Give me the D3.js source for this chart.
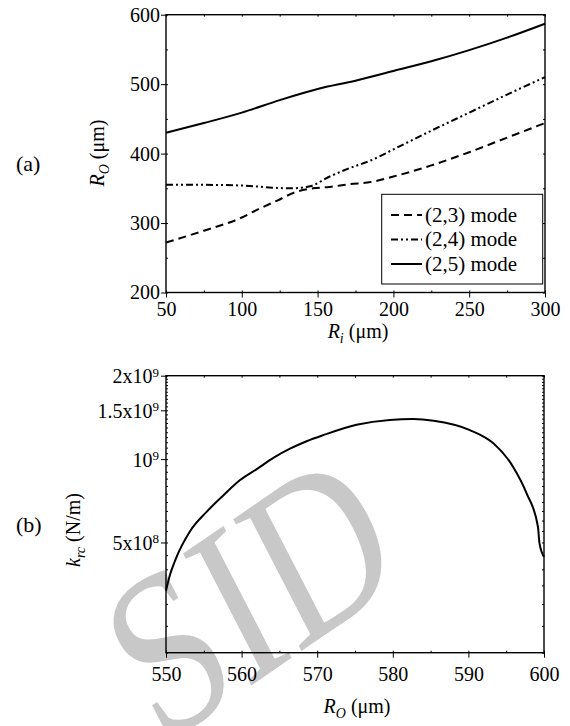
<!DOCTYPE html>
<html>
<head>
<meta charset="utf-8">
<script src="https://cdn.jsdelivr.net/npm/d3@7"></script>
<style>
  body { margin: 0; background: #fff; }
  svg, svg text, svg tspan { font-family: "Liberation Serif", "Times New Roman", serif; }
  .axis path { display: none; }
  .axis line { stroke: #000; stroke-width: 1; }
</style>
</head>
<body>
<svg id="chart" width="570" height="726"></svg>
<script>
// ---- panel (a): R_o vs R_i ----
const mode23Ri = [50, 75, 100, 110, 123, 136, 147, 158, 171, 185, 200, 225, 250, 275, 300];
const mode23Ro = [272, 289, 308, 319, 332, 345, 350, 352, 356, 359, 367, 383, 402, 423, 444];
const mode24Ri = [50, 75, 100, 120, 132, 145, 158, 171, 185, 200, 225, 250, 275, 300];
const mode24Ro = [355, 355, 354, 351, 350, 353, 367, 379, 390, 406, 433, 459, 485, 510];
const mode25Ri = [50, 75, 100, 125, 150, 175, 200, 225, 250, 275, 300];
const mode25Ro = [430, 444, 459, 477, 493, 505, 519, 533, 549, 567, 587];
const legendLabels = ['(2,3) mode', '(2,4) mode', '(2,5) mode'];
const riTicks = [50, 100, 150, 200, 250, 300];
const roTicksA = [200, 300, 400, 500, 600];

// ---- panel (b): k_rc vs R_o ----
const roValues = [550, 550.5, 551.2, 553.2, 555.4, 557.6, 559.8, 562, 564.2, 566.4, 568.6, 570.8,
  575.2, 579.6, 582.7, 585.4, 590.2, 593.3, 595.9, 597.7, 599.2, 599.4, 600];
const krcValues = [3.35e8, 3.8e8, 4.3e8, 5.5e8, 6.46e8, 7.4e8, 8.4e8, 9.2e8, 1.01e9, 1.09e9, 1.16e9, 1.22e9,
  1.33e9, 1.385e9, 1.395e9, 1.376e9, 1.273e9, 1.14e9, 9.39e8, 7.52e8, 5.70e8, 4.97e8, 4.44e8];
const roTicksB = [550, 560, 570, 580, 590, 600];
const krcTicks = [5e8, 1e9, 1.5e9, 2e9];
const krcTickBase = ['5x10', '10', '1.5x10', '2x10'];
const krcTickExp = ['8', '9', '9', '9'];

const svg = d3.select('#chart');
const FS = 20;

// watermark behind everything
svg.append('text')
  .attr('transform', 'matrix(0.824,-0.566,0.557,1.077,160,748)')
  .style('font-size', '187px')
  .style('fill', '#c8c8c8')
  .text('SID');

// helpers
function tickAxis(g, axis) {
  g.attr('class', 'axis').call(axis);
  g.attr('font-family', null).attr('font-size', null);
  g.selectAll('text').style('font-size', FS + 'px').attr('fill', '#000');
  return g;
}

function axisTitle(g, main, sub, rest) {
  const t = g.append('text').attr('text-anchor', 'middle').style('font-size', FS + 'px');
  t.append('tspan').style('font-style', 'italic').text(main);
  t.append('tspan').style('font-style', 'italic').style('font-size', '14px').attr('dy', 5).text(sub);
  t.append('tspan').attr('dy', -5).text(rest);
  return t;
}

// ================= panel (a) =================
const A = { left: 166, right: 545, top: 14.7, bottom: 292.5 };
const xA = d3.scaleLinear().domain([50, 300]).range([A.left, A.right]);
const yA = d3.scaleLinear().domain([200, 600]).range([A.bottom, A.top]);
const minorRi = d3.range(50, 301, 25);
const minorRoA = d3.range(200, 601, 50);

tickAxis(svg.append('g').attr('transform', `translate(0,${A.bottom})`),
  d3.axisBottom(xA).tickValues(minorRi).tickSize(-2).tickFormat(''));
tickAxis(svg.append('g').attr('transform', `translate(0,${A.bottom})`),
  d3.axisBottom(xA).tickValues(riTicks).tickSize(5).tickPadding(4).tickFormat(d3.format('d')));
tickAxis(svg.append('g').attr('transform', `translate(0,${A.top})`),
  d3.axisTop(xA).tickValues(minorRi).tickSize(-2).tickFormat(''));
tickAxis(svg.append('g').attr('transform', `translate(${A.left},0)`),
  d3.axisLeft(yA).tickValues(minorRoA).tickSize(-2).tickFormat(''));
tickAxis(svg.append('g').attr('transform', `translate(${A.left},0)`),
  d3.axisLeft(yA).tickValues(roTicksA).tickSize(5).tickPadding(1).tickFormat(d3.format('d')));
tickAxis(svg.append('g').attr('transform', `translate(${A.right},0)`),
  d3.axisRight(yA).tickValues(minorRoA).tickSize(-2).tickFormat(''));

svg.append('rect')
  .attr('x', A.left).attr('y', A.top)
  .attr('width', A.right - A.left).attr('height', A.bottom - A.top)
  .attr('fill', 'none').attr('stroke', '#000').attr('stroke-width', 1.4);

const lineA = d3.line().x(d => xA(d[0])).y(d => yA(d[1])).curve(d3.curveMonotoneX);
const seriesA = [
  { ri: mode23Ri, ro: mode23Ro, dash: '8,5' },
  { ri: mode24Ri, ro: mode24Ro, dash: '7,3,2,3,2,3' },
  { ri: mode25Ri, ro: mode25Ro, dash: null }
];
seriesA.forEach(s => {
  svg.append('path')
    .datum(s.ri.map((r, i) => [r, s.ro[i]]))
    .attr('fill', 'none')
    .attr('stroke', '#000')
    .attr('stroke-width', 2)
    .attr('stroke-dasharray', s.dash)
    .attr('d', lineA);
});

// legend
const legend = svg.append('g');
legend.append('rect')
  .attr('x', 381.7).attr('y', 194.3).attr('width', 161).attr('height', 89.7)
  .attr('fill', '#fff').attr('stroke', '#000').attr('stroke-width', 1);
seriesA.forEach((s, i) => {
  const y = 215 + i * 24.5;
  legend.append('line')
    .attr('x1', 391).attr('x2', 422).attr('y1', y).attr('y2', y)
    .attr('stroke', '#000').attr('stroke-width', 2)
    .attr('stroke-dasharray', s.dash);
  legend.append('text')
    .attr('x', 425).attr('y', y).attr('dy', '0.33em')
    .style('font-size', '21px')
    .text(legendLabels[i]);
});

axisTitle(svg.append('g').attr('transform', 'translate(358,338)'), 'R', 'i', ' (\u03bcm)');
axisTitle(svg.append('g').attr('transform', 'translate(104,153) rotate(-90)'), 'R', 'O', ' (\u03bcm)');
svg.append('text').attr('x', 16).attr('y', 171).style('font-size', '22px').text('(a)');

// ================= panel (b) =================
const B = { left: 166, right: 544, top: 375.7, bottom: 652.7 };
const xB = d3.scaleLinear().domain([550, 600]).range([B.left, B.right]);
const yB = d3.scaleLog().domain([2e8, 2e9]).range([B.bottom, B.top]);
const minorRoB = d3.range(550, 601, 5);
const minorKrc = d3.range(2e8, 2e9 + 1, 5e7);

tickAxis(svg.append('g').attr('transform', `translate(0,${B.bottom})`),
  d3.axisBottom(xB).tickValues(minorRoB).tickSize(-2).tickFormat(''));
tickAxis(svg.append('g').attr('transform', `translate(0,${B.bottom})`),
  d3.axisBottom(xB).tickValues(roTicksB).tickSize(5).tickPadding(9).tickFormat(d3.format('d')));
tickAxis(svg.append('g').attr('transform', `translate(0,${B.top})`),
  d3.axisTop(xB).tickValues(minorRoB).tickSize(-2).tickFormat(''));
tickAxis(svg.append('g').attr('transform', `translate(${B.left},0)`),
  d3.axisLeft(yB).tickValues(minorKrc).tickSize(-2).tickFormat(''));
tickAxis(svg.append('g').attr('transform', `translate(${B.right},0)`),
  d3.axisRight(yB).tickValues(minorKrc).tickSize(-2).tickFormat(''));
const yAxisB = tickAxis(svg.append('g').attr('transform', `translate(${B.left},0)`),
  d3.axisLeft(yB).tickValues(krcTicks).tickSize(5).tickPadding(1).tickFormat(''));
yAxisB.selectAll('.tick').each(function (d, i) {
  const t = d3.select(this).append('text')
    .attr('x', -7).attr('dy', '0.35em')
    .attr('text-anchor', 'end')
    .attr('fill', '#000')
    .style('font-size', FS + 'px');
  t.append('tspan').text(krcTickBase[i]);
  t.append('tspan').attr('dy', '-0.5em').style('font-size', '13px').text(krcTickExp[i]);
});

svg.append('rect')
  .attr('x', B.left).attr('y', B.top)
  .attr('width', B.right - B.left).attr('height', B.bottom - B.top)
  .attr('fill', 'none').attr('stroke', '#000').attr('stroke-width', 1.4);

const lineB = d3.line().x(d => xB(d[0])).y(d => yB(d[1])).curve(d3.curveMonotoneX);
svg.append('path')
  .datum(roValues.map((r, i) => [r, krcValues[i]]))
  .attr('fill', 'none')
  .attr('stroke', '#000')
  .attr('stroke-width', 2)
  .attr('d', lineB);

axisTitle(svg.append('g').attr('transform', 'translate(357,713)'), 'R', 'O', ' (\u03bcm)');
axisTitle(svg.append('g').attr('transform', 'translate(80,530) rotate(-90)'), 'k', 'rc', ' (N/m)');
svg.append('text').attr('x', 16).attr('y', 532).style('font-size', '22px').text('(b)');
</script>
</body>
</html>
